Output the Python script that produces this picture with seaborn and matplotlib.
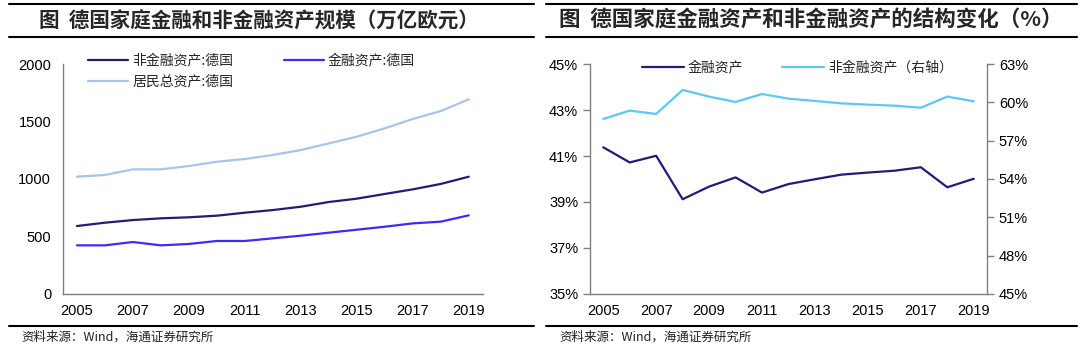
import pandas as pd
import matplotlib.pyplot as plt
import seaborn as sns
from matplotlib.lines import Line2D
from matplotlib.ticker import FuncFormatter, FixedLocator

# 数据
years = list(range(2005, 2020))
nonfin_assets = [591, 620, 643, 658, 667, 681, 707, 730, 759, 800, 829, 870, 910, 957, 1020]
fin_assets = [423, 423, 452, 423, 435, 461, 461, 484, 507, 533, 559, 585, 614, 629, 684]
total_assets = [1020, 1035, 1084, 1084, 1113, 1150, 1174, 1209, 1252, 1310, 1368, 1441, 1522, 1591, 1693]

fin_share = [41.38, 40.72, 41.01, 39.12, 39.67, 40.07, 39.41, 39.78, 39.99, 40.19, 40.28, 40.36, 40.51, 39.64, 40.01]
nonfin_share = [58.70, 59.35, 59.09, 60.97, 60.45, 60.03, 60.65, 60.29, 60.11, 59.92, 59.82, 59.74, 59.58, 60.45, 60.08]

left_title = '图  德国家庭金融和非金融资产规模（万亿欧元）'
right_title = '图  德国家庭金融资产和非金融资产的结构变化（%）'
source_text = '资料来源：Wind，海通证券研究所'

df_left = pd.DataFrame({'year': years, 'nonfin': nonfin_assets, 'fin': fin_assets, 'total': total_assets})
df_right = pd.DataFrame({'year': years, 'fin': fin_share, 'nonfin': nonfin_share})

sns.set_theme(style="white")
plt.rcParams['font.family'] = ['Liberation Sans', 'Noto Sans CJK SC', 'DejaVu Sans']

fig = plt.figure(figsize=(10.8, 3.57), dpi=100)
ax1 = fig.add_axes([0.0583, 0.1765, 0.3887, 0.6442])
ax2 = fig.add_axes([0.5463, 0.1765, 0.3676, 0.6442])
ax3 = ax2.twinx()

spine_c = '#7f7f7f'
cjk = ['Noto Sans CJK SC', 'DejaVu Sans']

# 左图
sns.lineplot(data=df_left, x='year', y='nonfin', ax=ax1, color='#231d6f', lw=1.6, label='非金融资产:德国', legend=False)
sns.lineplot(data=df_left, x='year', y='fin', ax=ax1, color='#3b2df5', lw=1.6, label='金融资产:德国', legend=False)
sns.lineplot(data=df_left, x='year', y='total', ax=ax1, color='#a9c4e8', lw=1.6, label='居民总资产:德国', legend=False)
ax1.set_ylim(0, 2000)
ax1.set_yticks(range(0, 2001, 500))

# 右图
sns.lineplot(data=df_right, x='year', y='fin', ax=ax2, color='#221b78', lw=1.6, label='金融资产', legend=False)
sns.lineplot(data=df_right, x='year', y='nonfin', ax=ax3, color='#5cc8f5', lw=1.6, label='非金融资产（右轴）', legend=False)
ax2.set_ylim(35, 45)
ax2.set_yticks(range(35, 46, 2))
ax3.set_ylim(45, 63)
ax3.set_yticks(range(45, 64, 3))
pct = FuncFormatter(lambda v, p: f'{v:.0f}%')
ax2.yaxis.set_major_formatter(pct)
ax3.yaxis.set_major_formatter(pct)

for ax in (ax1, ax2, ax3):
    ax.set_xlim(2004.5, 2019.5)
    ax.set_xticks(range(2005, 2020, 2))
    ax.xaxis.set_minor_locator(FixedLocator([2004.5 + 2 * i for i in range(8)] + [2019.5]))
    ax.set_xlabel('')
    ax.set_ylabel('')
    ax.grid(False)
    ax.tick_params(axis='x', which='major', length=0, labelsize=10.5, pad=7, colors='black')
    ax.tick_params(axis='x', which='minor', length=5, width=1, color=spine_c, direction='out')
    ax.tick_params(axis='y', length=5, width=1, color=spine_c, direction='out', labelsize=10.5, labelcolor='black')
    for s in ax.spines.values():
        s.set_color(spine_c)
        s.set_linewidth(1)
    ax.spines['top'].set_visible(False)

ax1.spines['right'].set_visible(False)
ax2.spines['right'].set_visible(False)
ax3.spines['left'].set_visible(False)
ax3.spines['bottom'].set_visible(False)
ax3.tick_params(axis='x', which='both', length=0, labelbottom=False)

# 图例
h = ax1.get_lines()
ax1.legend([h[0], h[2], h[1]], [l.get_label() for l in (h[0], h[2], h[1])], ncol=2, frameon=False,
           loc='upper left', bbox_to_anchor=(0.03, 1.1), prop={'family': cjk, 'size': 10},
           handlelength=2.9, handletextpad=0.3, columnspacing=3.6, labelspacing=0.5)
ax2.legend([ax2.get_lines()[0], ax3.get_lines()[0]], ['金融资产', '非金融资产（右轴）'], ncol=2, frameon=False,
           loc='upper left', bbox_to_anchor=(0.1, 1.07), prop={'family': cjk, 'size': 10},
           handlelength=3.0, handletextpad=0.3, columnspacing=2.8)

# 标题、分隔线与来源
for x0, x1, tx, fs, title in ((0.008, 0.494, 0.036, 14.8, left_title), (0.506, 0.997, 0.518, 15.5, right_title)):
    fig.add_artist(Line2D([x0, x1], [0.990, 0.990], color='black', lw=1.5))
    fig.add_artist(Line2D([x0, x1], [0.895, 0.895], color='black', lw=1.5))
    fig.add_artist(Line2D([x0, x1], [0.087, 0.087], color='black', lw=1.5))
    fig.text(tx, 0.945, title, family=cjk, fontsize=fs, fontweight='bold', va='center', ha='left')
    fig.text(x0 + 0.012, 0.055, source_text, family=cjk, fontsize=9, va='center', ha='left', color='#222222')

plt.savefig('out.png', dpi=100)
